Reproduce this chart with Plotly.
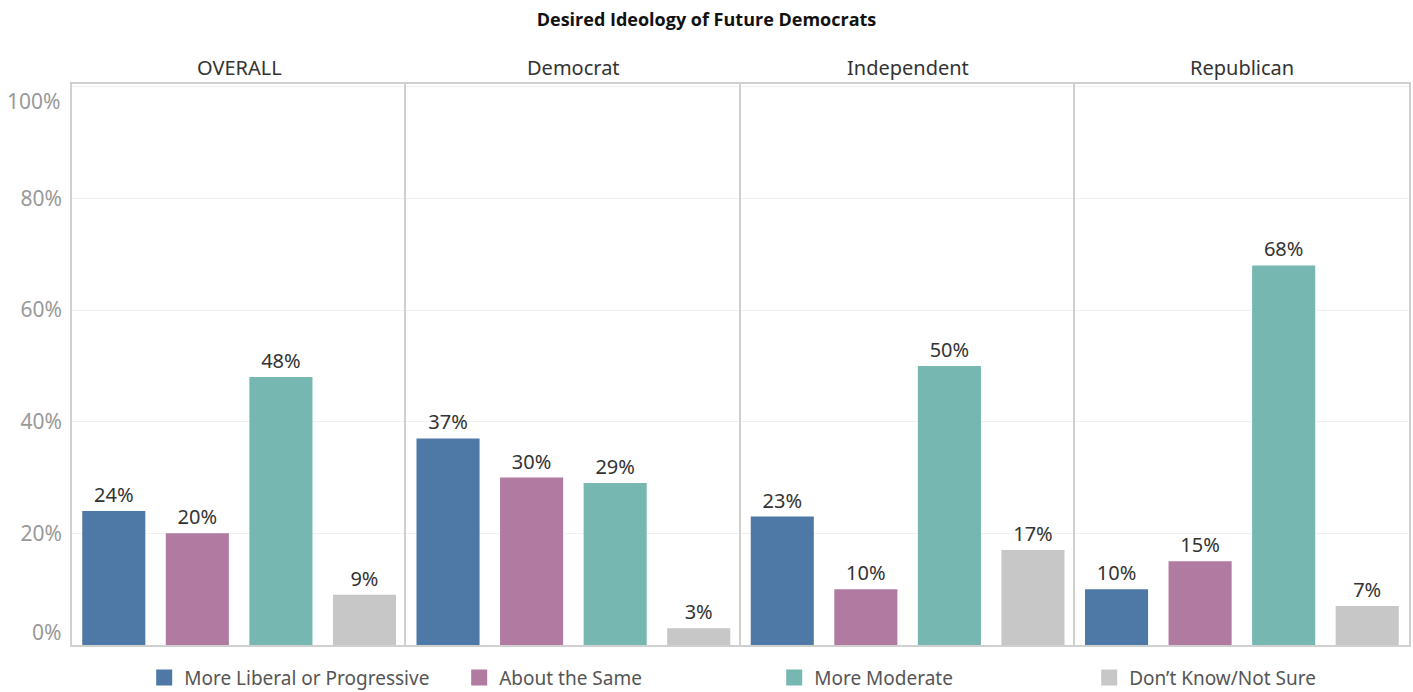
import plotly.graph_objects as go
from plotly.subplots import make_subplots

panels = ["OVERALL", "Democrat", "Independent", "Republican"]
responses = ["More Liberal or Progressive", "About the Same", "More Moderate", "Don\u2019t Know/Not Sure"]
colors = ["#4e79a7", "#b07aa1", "#76b7b2", "#c7c7c7"]
values = {
    "OVERALL":     [24, 20, 48, 9],
    "Democrat":    [37, 30, 29, 3],
    "Independent": [23, 10, 50, 17],
    "Republican":  [10, 15, 68, 7],
}
yticks = [0, 20, 40, 60, 80, 100]
yticklabels = ["0%", "20%", "40%", "60%", "80%", "100%"]

FONT = "Noto Sans"
TICKFONT = dict(family=FONT, size=21, color="#999999")
fig = make_subplots(rows=1, cols=4, shared_yaxes=True, horizontal_spacing=0,
                    subplot_titles=panels)

# inner tick labels on axis; the end labels are nudged inward as in the original
inner_text = [t if 0 < v < 100 else "" for v, t in zip(yticks, yticklabels)]

for c, p in enumerate(panels, start=1):
    fig.add_trace(go.Bar(
        x=responses, y=values[p],
        marker=dict(color=colors, line=dict(width=0)),
        text=[f"{v}%" for v in values[p]], textposition="outside",
        textfont=dict(family=FONT, size=20, color="#333333"),
        cliponaxis=False, showlegend=False, hoverinfo="x+y",
    ), row=1, col=c)
    fig.update_xaxes(showticklabels=False, showline=True, mirror=True,
                     linecolor="#d0d0d0", linewidth=1.5, showgrid=False,
                     automargin=False, row=1, col=c)
    fig.update_yaxes(range=[0, 100.5], tickvals=yticks, ticktext=inner_text,
                     showline=True, mirror=(c == 4), linecolor="#d0d0d0", linewidth=1.5,
                     showgrid=True, gridcolor="#f0f0f0", zeroline=False,
                     tickfont=TICKFONT, ticklabelstandoff=4,
                     ticks="", automargin=False, row=1, col=c)

for v, t in zip(yticks, yticklabels):
    if v in (0, 100):
        fig.add_annotation(text=t, xref="paper", x=0, xanchor="right", xshift=-9,
                           yref="y", y=v, yanchor="middle",
                           yshift=13 if v == 0 else -14,
                           showarrow=False, font=TICKFONT)

# legend-only entries
for r, col in zip(responses, colors):
    fig.add_trace(go.Scatter(x=[None], y=[None], mode="markers", name=r,
                             marker=dict(symbol="square", size=22, color=col)),
                  row=1, col=1)

for ann in fig.layout.annotations:
    if ann.text in panels:
        ann.font = dict(family=FONT, size=20, color="#333333")
        ann.yshift = 1

fig.update_layout(
    width=1413, height=692,
    margin=dict(l=72, r=4, t=84, b=47, autoexpand=False),
    paper_bgcolor="white", plot_bgcolor="white",
    bargap=0.245,
    title=dict(text="<b>Desired Ideology of Future Democrats</b>", x=0.5, xanchor="center",
               y=0.972, yanchor="middle",
               font=dict(family="Open Sans", size=18, color="#111111")),
    legend=dict(orientation="h", x=0.054, xanchor="left", y=-0.058, yanchor="middle",
                entrywidth=270, entrywidthmode="pixels",
                font=dict(family=FONT, size=19, color="#555555"),
                itemclick=False),
    showlegend=True,
)

fig.write_html("out.html", config={"displayModeBar": False},
               post_script="document.body.style.margin='0';document.body.style.overflow='hidden';")
